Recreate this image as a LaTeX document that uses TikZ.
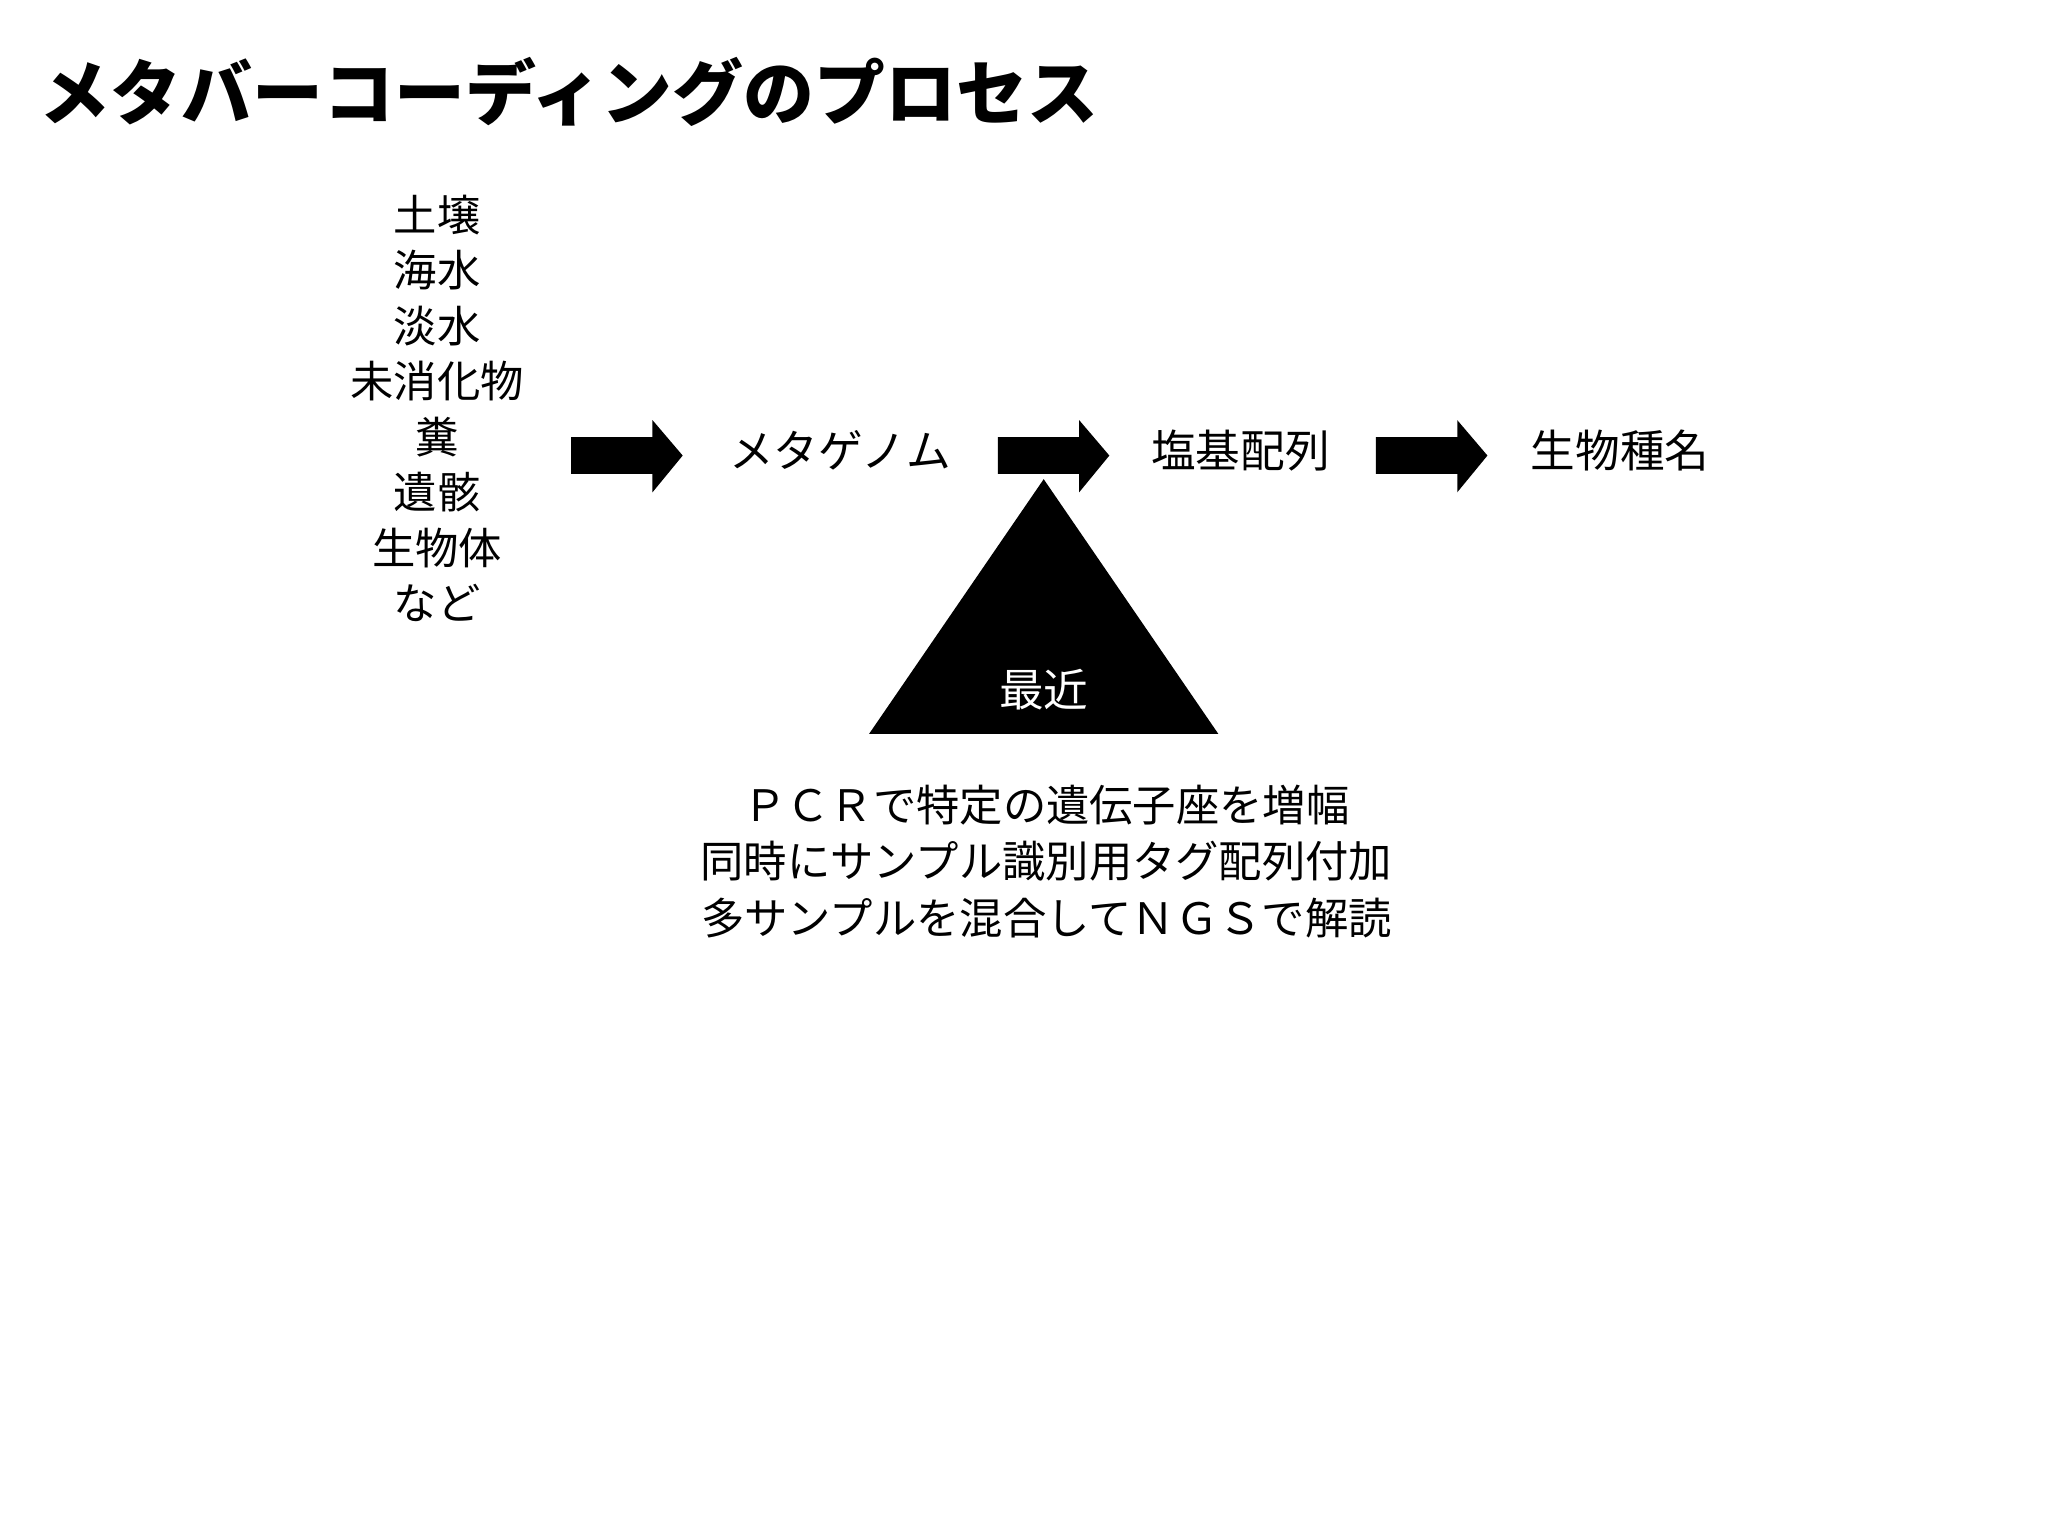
\documentclass[tikz,border=0pt]{standalone}
\usepackage{fontspec}
\setmainfont{Noto Sans CJK JP}
\tikzset{
  lbl/.style={font=\fontsize{34}{42}\selectfont, inner sep=0pt, align=center},
  barrow/.style={fill=black}
}
\begin{document}
\begin{tikzpicture}[x=1pt,y=-1pt]
\useasboundingbox (0,0) rectangle (1560,1169.2);
\node[anchor=west, inner sep=0pt, font=\fontsize{54}{60}\selectfont\bfseries] (title) at (30,70) {メタバーコーディングのプロセス};
\node[lbl, font=\fontsize{33}{42.3}\selectfont] (src) at (333,311) {土壌\\海水\\淡水\\未消化物\\糞\\遺骸\\生物体\\など};
\node[lbl] (mg) at (640,343) {メタゲノム};
\node[lbl] (seq) at (945,343) {塩基配列};
\node[lbl] (sp) at (1234,343) {生物種名};
\foreach \x/\n in {435/a1,760/a2,1048/a3}{
  \fill[barrow] (\x,333) -- (\x+62,333) -- (\x+62,320) -- (\x+85,347) -- (\x+62,375) -- (\x+62,361) -- (\x,361) -- cycle;
  \coordinate (\n) at (\x,347);
}
\fill (795,365) -- (928,559) -- (662,559) -- cycle;
\node[lbl, text=white] (recent) at (795,525) {最近};
\node[lbl, font=\fontsize{33}{43}\selectfont] (desc) at (797,656) {ＰＣＲで特定の遺伝子座を増幅\\同時にサンプル識別用タグ配列付加\\多サンプルを混合してＮＧＳで解読};
\end{tikzpicture}
\end{document}
